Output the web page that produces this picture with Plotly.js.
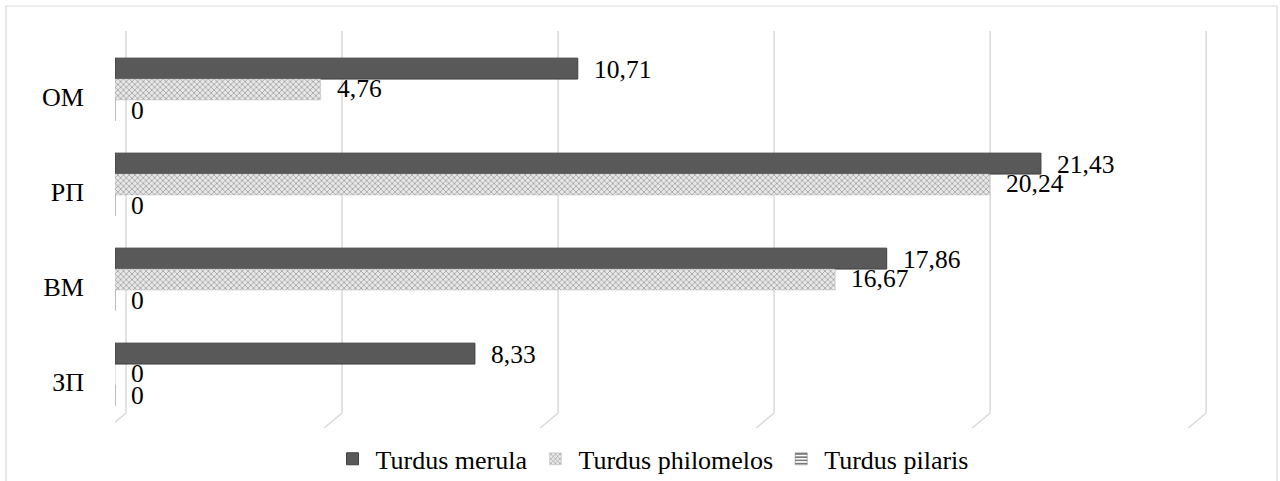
<!DOCTYPE html>
<html>
<head>
<meta charset="utf-8">
<script src="https://cdn.plot.ly/plotly-3.0.1.min.js"></script>
<style>
  html, body { margin: 0; padding: 0; background: #fff; }
  #chart { width: 1280px; height: 481px; }
</style>
</head>
<body>
<div id="chart"></div>
<script>
// ---- data ----
const categories = ['ОМ', 'РП', 'ВМ', 'ЗП'];
const merula = [10.71, 21.43, 17.86, 8.33];
const philomelos = [4.76, 20.24, 16.67, 0];
const pilaris = [0, 0, 0, 0];
const seriesNames = ['Turdus merula', 'Turdus philomelos', 'Turdus pilaris'];
const gridTicks = [0, 5, 10, 15, 20, 25];

const FONT = 'Liberation Serif, Times New Roman, serif';
const fmt = v => String(v).replace('.', ',');

const seriesValues = [merula, philomelos, pilaris];
const seriesStyle = [
  { color: '#595959', line: { color: '#3f3f3f', width: 1 } },
  { color: '#d0d0d0', line: { color: '#bdbdbd', width: 0.5 },
    pattern: { shape: 'x', fgcolor: '#8c8c8c', bgcolor: '#e8e8e8', size: 4, solidity: 0.3 } },
  { color: '#ffffff', line: { color: '#666', width: 0.5 },
    pattern: { shape: '-', fgcolor: '#555555', bgcolor: '#ffffff', size: 4, solidity: 0.4 } }
];

const traces = seriesValues.map((vals, k) => ({
  type: 'bar',
  orientation: 'h',
  name: seriesNames[k],
  y: categories,
  x: vals,
  marker: seriesStyle[k],
  hoverinfo: 'skip'
}));

// data labels via annotations (pixel shift per series)
const yShifts = [20, 1, -21];
const annotations = [];
seriesValues.forEach((vals, k) => {
  vals.forEach((v, i) => {
    annotations.push({
      x: v, y: categories[i], xref: 'x', yref: 'y',
      text: fmt(v), showarrow: false,
      xanchor: 'left', yanchor: 'middle',
      xshift: 14, yshift: yShifts[k],
      font: { family: FONT, size: 25.5, color: '#000' }
    });
  });
});

// perspective gridlines
const shapes = [];
gridTicks.forEach(g => {
  shapes.push({
    type: 'line', layer: 'below', xref: 'x', xsizemode: 'pixel', xanchor: g,
    x0: 11, x1: 11, yref: 'paper', y0: 0.0237, y1: 1.0289,
    line: { color: '#d9d9d9', width: 1.5 }
  });
  shapes.push({
    type: 'line', layer: 'below', xref: 'x', xsizemode: 'pixel', xanchor: g,
    x0: 11, x1: -7, yref: 'paper', y0: 0.0237, y1: -0.0158,
    line: { color: '#d9d9d9', width: 1.5 }
  });
});
// chart border
shapes.push({
  type: 'rect', layer: 'below', xref: 'paper', yref: 'paper',
  x0: -0.0952, x1: 1.0148, y0: -0.2, y1: 1.0947,
  line: { color: '#d9d9d9', width: 1.2 }, fillcolor: 'rgba(0,0,0,0)'
});

const layout = {
  width: 1280, height: 481,
  margin: { l: 115, r: 20, t: 42, b: 59 },
  paper_bgcolor: '#fff', plot_bgcolor: 'rgba(0,0,0,0)',
  font: { family: FONT, size: 26, color: '#000' },
  barmode: 'group', bargap: 0.34, bargroupgap: 0,
  showlegend: true,
  legend: {
    orientation: 'h', xref: 'container', yref: 'container',
    x: 0.509, y: 0.046, xanchor: 'center', yanchor: 'middle',
    font: { family: FONT, size: 26, color: '#000' },
    traceorder: 'normal', itemwidth: 36
  },
  xaxis: {
    range: [0, 26.5], showgrid: false, zeroline: false,
    showticklabels: false, showline: false, ticks: '', fixedrange: true
  },
  yaxis: {
    type: 'category', autorange: 'reversed', showgrid: false, zeroline: false,
    showline: false, ticks: '', ticklabelstandoff: 30, ticklabelshift: -7,
    tickfont: { family: FONT, size: 26, color: '#000' }, fixedrange: true
  },
  annotations: annotations,
  shapes: shapes
};

Plotly.newPlot('chart', traces, layout, { displayModeBar: false, staticPlot: true });
</script>
</body>
</html>
